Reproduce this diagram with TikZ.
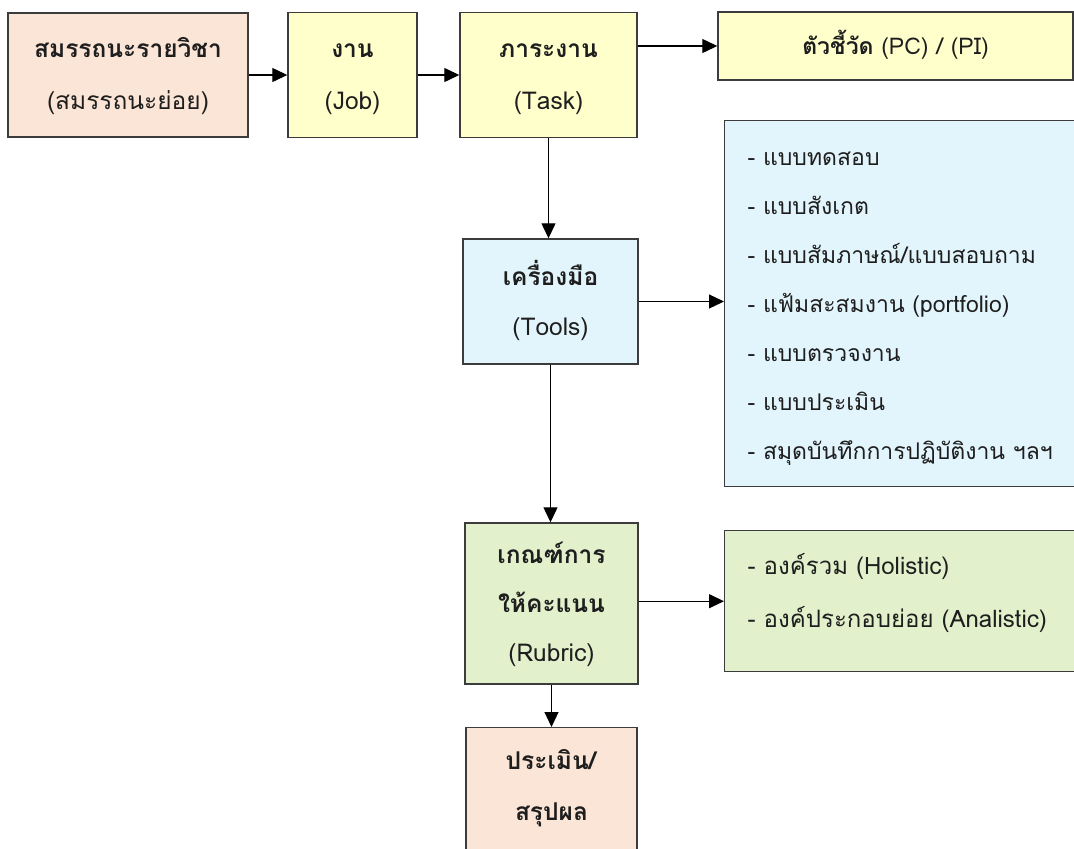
\documentclass[tikz,border=0pt]{standalone}
\usepackage{fontspec}
\setmainfont[Script=Thai]{Loma}
\usetikzlibrary{arrows.meta,calc}
\definecolor{peach}{HTML}{FBE5D6}
\definecolor{lemon}{HTML}{FFFFCC}
\definecolor{sky}{HTML}{E3F5FC}
\definecolor{lime}{HTML}{E2F0CB}
\definecolor{edge}{HTML}{3C3C3C}
\definecolor{ink}{HTML}{1E1E1E}
\newcommand\ls{\rule[-15pt]{0pt}{47pt}}
\begin{document}
\begin{tikzpicture}[x=1pt,y=-1pt,
  box/.style={draw=edge, line width=1.4pt, inner sep=0pt, align=center, text=ink,
    font=\fontsize{24.5}{50}\selectfont},
  listbox/.style={draw=edge, line width=1.4pt, inner ysep=0pt, inner xsep=23pt,
    align=left, text width=330pt, anchor=north west, text=ink,
    font=\fontsize{23}{49}\selectfont},
  conn/.style={line width=1.2pt, -{Triangle[length=15pt,width=14pt]}}
]
\useasboundingbox (0,0) rectangle (1074,849);
\clip (0,0) rectangle (1074,849);
\fill[white] (0,0) rectangle (1074,849);

\node[box, fill=peach, minimum width=240pt, minimum height=124pt,
  font=\fontsize{24.5}{52}\selectfont] (b1) at (128,75)
  {\ls\textbf{สมรรถนะรายวิชา}\\\ls(สมรรถนะย่อย)};
\node[box, fill=lemon, minimum width=129pt, minimum height=125pt,
  font=\fontsize{24.5}{52}\selectfont] (b2) at (352.5,75)
  {\ls\textbf{งาน}\\\ls(Job)};
\node[box, fill=lemon, minimum width=177pt, minimum height=125pt,
  font=\fontsize{24.5}{52}\selectfont] (b3) at (548.5,75)
  {\ls\textbf{ภาระงาน}\\\ls(Task)};
\node[box, fill=lemon, minimum width=355pt, minimum height=68pt,
  font=\fontsize{23}{50}\selectfont] (pc) at (895.5,46)
  {\ls\textbf{ตัวชี้วัด} (PC) / (PI)};

\node[box, fill=sky, minimum width=175pt, minimum height=125pt] (tools) at (550.5,301.5)
  {\ls\textbf{เครื่องมือ}\\\ls(Tools)};
\node[listbox, fill=sky, minimum height=366pt] (tlist) at (724,120)
  {\ls- แบบทดสอบ\\\ls- แบบสังเกต\\\ls- แบบสัมภาษณ์/แบบสอบถาม\\\ls- แฟ้มสะสมงาน (portfolio)\\\ls- แบบตรวจงาน\\\ls- แบบประเมิน\\\ls- สมุดบันทึกการปฏิบัติงาน ฯลฯ};

\node[box, fill=lime, minimum width=173pt, minimum height=161pt,
  font=\fontsize{24.5}{49}\selectfont] (rub) at (551.5,603.5)
  {\ls\textbf{เกณฑ์การ}\\\ls\textbf{ให้คะแนน}\\\ls(Rubric)};
\node[listbox, fill=lime, minimum height=141pt,
  font=\fontsize{24}{53}\selectfont] (rlist) at (724,530)
  {\ls- องค์รวม (Holistic)\\\ls- องค์ประกอบย่อย (Analistic)\rule[-33pt]{0pt}{0pt}};

\node[box, fill=peach, minimum width=171pt, inner ysep=9.5pt, anchor=north,
  font=\fontsize{24.5}{51}\selectfont] (eval) at (551.5,727)
  {\ls\textbf{ประเมิน/}\\\ls\textbf{สรุปผล}\rule[-80pt]{0pt}{0pt}};

\draw[conn] (b1.east) -- (b2.west);
\draw[conn] (b2.east) -- (b3.west);
\draw[conn] (pc.west -| b3.east) -- (pc.west);
\draw[conn] (b3.south) -- (b3.south |- tools.north);
\draw[conn] (tools.east) -- (tools.east -| tlist.west);
\draw[conn] (tools.south) -- (tools.south |- rub.north);
\draw[conn] (rlist.west -| rub.east) -- (rlist.west);
\draw[conn] (rub.south) -- (rub.south |- eval.north);
\end{tikzpicture}
\end{document}
